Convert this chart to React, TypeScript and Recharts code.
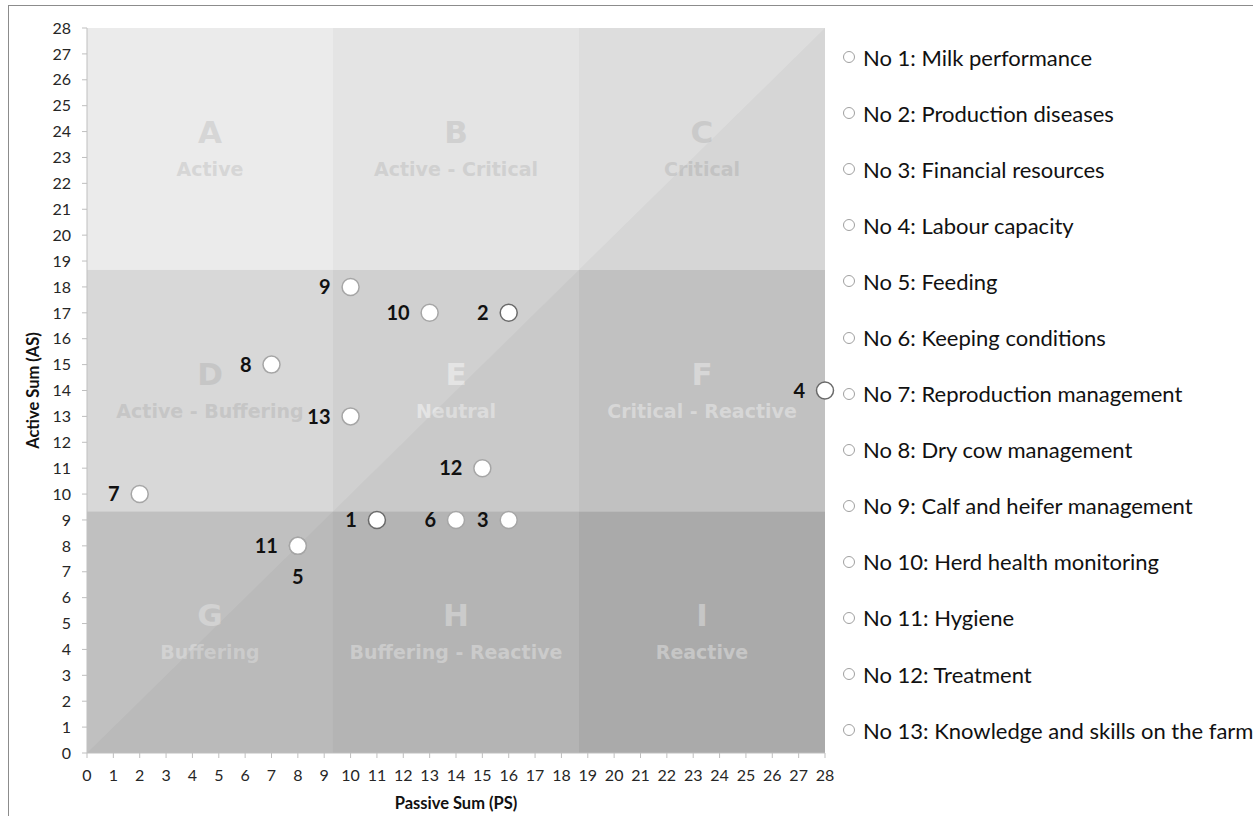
import React from 'react';
import {
  ComposedChart,
  XAxis,
  YAxis,
  Scatter,
  Area,
  ReferenceArea,
  LabelList,
} from 'recharts';

// ---------- data ----------
const factorIds = [1, 2, 3, 4, 5, 6, 7, 8, 9, 10, 11, 12, 13];
const passiveSum = [11, 16, 16, 28, 8, 14, 2, 7, 10, 13, 8, 15, 10];
const activeSum = [9, 17, 9, 14, 8, 9, 10, 15, 18, 17, 8, 11, 13];
const factorNames = [
  'Milk performance',
  'Production diseases',
  'Financial resources',
  'Labour capacity',
  'Feeding',
  'Keeping conditions',
  'Reproduction management',
  'Dry cow management',
  'Calf and heifer management',
  'Herd health monitoring',
  'Hygiene',
  'Treatment',
  'Knowledge and skills on the farm',
];
const axisTicks = [
  0, 1, 2, 3, 4, 5, 6, 7, 8, 9, 10, 11, 12, 13, 14, 15, 16, 17, 18, 19, 20, 21,
  22, 23, 24, 25, 26, 27, 28,
];
const zoneBounds = [0, 9.333, 18.667, 28];
const zoneLetters = ['A', 'B', 'C', 'D', 'E', 'F', 'G', 'H', 'I'];
const zoneNames = [
  'Active',
  'Active - Critical',
  'Critical',
  'Active - Buffering',
  'Neutral',
  'Critical - Reactive',
  'Buffering',
  'Buffering - Reactive',
  'Reactive',
];
const diagonalLine = [
  { ps: 0, diag: 0 },
  { ps: 28, diag: 28 },
];

// ---------- styles ----------
const zoneFills = [
  '#ebebeb', '#e4e4e4', '#dddddd',
  '#d8d8d8', '#d0d0d0', '#c8c8c8',
  '#c0c0c0', '#bababa', '#b0b0b0',
];
const zoneTextColors = [
  '#d6d6d6', '#d0d0d0', '#cacaca',
  '#c6c6c6', '#e4e4e4', '#dedede',
  '#d2d2d2', '#d2d2d2', '#cdcdcd',
];
const darkOutline = new Set([1, 2, 4]);
const labelBelow = new Set([5]);
const LABEL_FONT = 'Lato, "Open Sans", sans-serif';
const ZONE_FONT = '"DejaVu Sans", sans-serif';

const points = factorIds.map((id, i) => ({ id, ps: passiveSum[i], as: activeSum[i] }));

const ZoneLabel = (props: any) => {
  const { viewBox, letter, name, color } = props;
  if (!viewBox) return null;
  const cx = viewBox.x + viewBox.width / 2;
  const cy = viewBox.y + viewBox.height / 2;
  return (
    <g>
      <text
        x={cx}
        y={cy - 17 + 11}
        textAnchor="middle"
        fontFamily={ZONE_FONT}
        fontWeight={700}
        fontSize={31}
        fill={color}
      >
        {letter}
      </text>
      <text
        x={cx}
        y={cy + 20 + 7}
        textAnchor="middle"
        fontFamily={ZONE_FONT}
        fontWeight={700}
        fontSize={19}
        fill={color}
      >
        {name}
      </text>
    </g>
  );
};

const PointShape = (props: any) => {
  const { cx, cy, payload } = props;
  const dark = payload && darkOutline.has(payload.id);
  return (
    <circle
      cx={cx}
      cy={cy}
      r={8.5}
      fill="#ffffff"
      stroke={dark ? '#6a6a6a' : '#a6a6a6'}
      strokeWidth={1.5}
    />
  );
};

const PointLabel = (props: any) => {
  const { x, y, width, height, value } = props;
  const cx = x + (width || 0) / 2;
  const cy = y + (height || 0) / 2;
  const fs = 20;
  if (labelBelow.has(value)) {
    return (
      <text x={cx} y={cy + 31 + fs * 0.36} textAnchor="middle" fontFamily={LABEL_FONT} fontWeight={700} fontSize={fs} fill="#111">
        {value}
      </text>
    );
  }
  return (
    <text x={cx - 20} y={cy + fs * 0.36} textAnchor="end" fontFamily={LABEL_FONT} fontWeight={700} fontSize={fs} fill="#111">
      {value}
    </text>
  );
};

const zones = zoneLetters.map((letter, i) => {
  const col = i % 3;
  const row = Math.floor(i / 3);
  return {
    letter,
    name: zoneNames[i],
    x1: zoneBounds[col],
    x2: zoneBounds[col + 1],
    y1: zoneBounds[3 - row - 1],
    y2: zoneBounds[3 - row],
    fill: zoneFills[i],
    color: zoneTextColors[i],
  };
});

export default function App() {
  return (
    <div
      style={{
        position: 'fixed',
        left: 0,
        top: 0,
        width: 1253,
        height: 816,
        overflow: 'hidden',
        background: '#ffffff',
      }}
    >
      <div
        style={{
          position: 'absolute',
          left: 8,
          top: 5,
          width: 1400,
          height: 900,
          border: '1.5px solid #8c8c8c',
          boxSizing: 'border-box',
        }}
      />
      <div style={{ position: 'absolute', left: 0, top: 0 }}>
        <ComposedChart
          width={1253}
          height={816}
          margin={{ top: 28, right: 428, bottom: 3, left: 0 }}
        >
          <XAxis
            type="number"
            dataKey="ps"
            domain={[0, 28]}
            ticks={axisTicks}
            interval={0}
            height={60}
            stroke="#bfbfbf"
            tickSize={5}
            tickMargin={12}
            tick={{ fontSize: 16, fill: '#262626', fontFamily: LABEL_FONT }}
            label={{
              value: 'Passive Sum (PS)',
              position: 'insideBottom',
              offset: 4,
              style: { fontWeight: 700, fontSize: 16.5, fill: '#111', fontFamily: LABEL_FONT },
            }}
          />
          <YAxis
            type="number"
            dataKey="as"
            domain={[0, 28]}
            ticks={axisTicks}
            interval={0}
            width={87}
            stroke="#bfbfbf"
            tickSize={5}
            tickMargin={11}
            tick={{ fontSize: 16, fill: '#262626', fontFamily: LABEL_FONT }}
            label={{
              value: 'Active Sum (AS)',
              angle: -90,
              position: 'insideLeft',
              offset: 33,
              style: { textAnchor: 'middle', fontWeight: 700, fontSize: 16.5, fill: '#111', fontFamily: LABEL_FONT },
            }}
          />
          {zones.map((z) => (
            <ReferenceArea
              key={z.letter}
              x1={z.x1}
              x2={z.x2}
              y1={z.y1}
              y2={z.y2}
              fill={z.fill}
              fillOpacity={1}
              stroke="none"
              label={<ZoneLabel letter={z.letter} name={z.name} color={z.color} />}
            />
          ))}
          <Area
            data={diagonalLine}
            dataKey="diag"
            type="linear"
            stroke="none"
            fill="#000000"
            fillOpacity={0.03}
            isAnimationActive={false}
            dot={false}
            activeDot={false}
          />
          <Scatter data={points} dataKey="as" shape={PointShape} isAnimationActive={false}>
            <LabelList dataKey="id" content={PointLabel} />
          </Scatter>
        </ComposedChart>
      </div>
      <div
        style={{
          position: 'absolute',
          left: 838,
          top: 29,
          width: 415,
          fontFamily: LABEL_FONT,
          fontSize: 22,
          color: '#111',
        }}
      >
        {factorNames.map((name, i) => (
          <div
            key={name}
            style={{ height: 56.1, display: 'flex', alignItems: 'center', whiteSpace: 'nowrap' }}
          >
            <svg width={22} height={14} style={{ flex: 'none', marginLeft: 3 }}>
              <circle cx={8} cy={7} r={5.5} fill="#fff" stroke="#a0a0a0" strokeWidth={1} />
            </svg>
            <span>{`No ${factorIds[i]}: ${name}`}</span>
          </div>
        ))}
      </div>
    </div>
  );
}
